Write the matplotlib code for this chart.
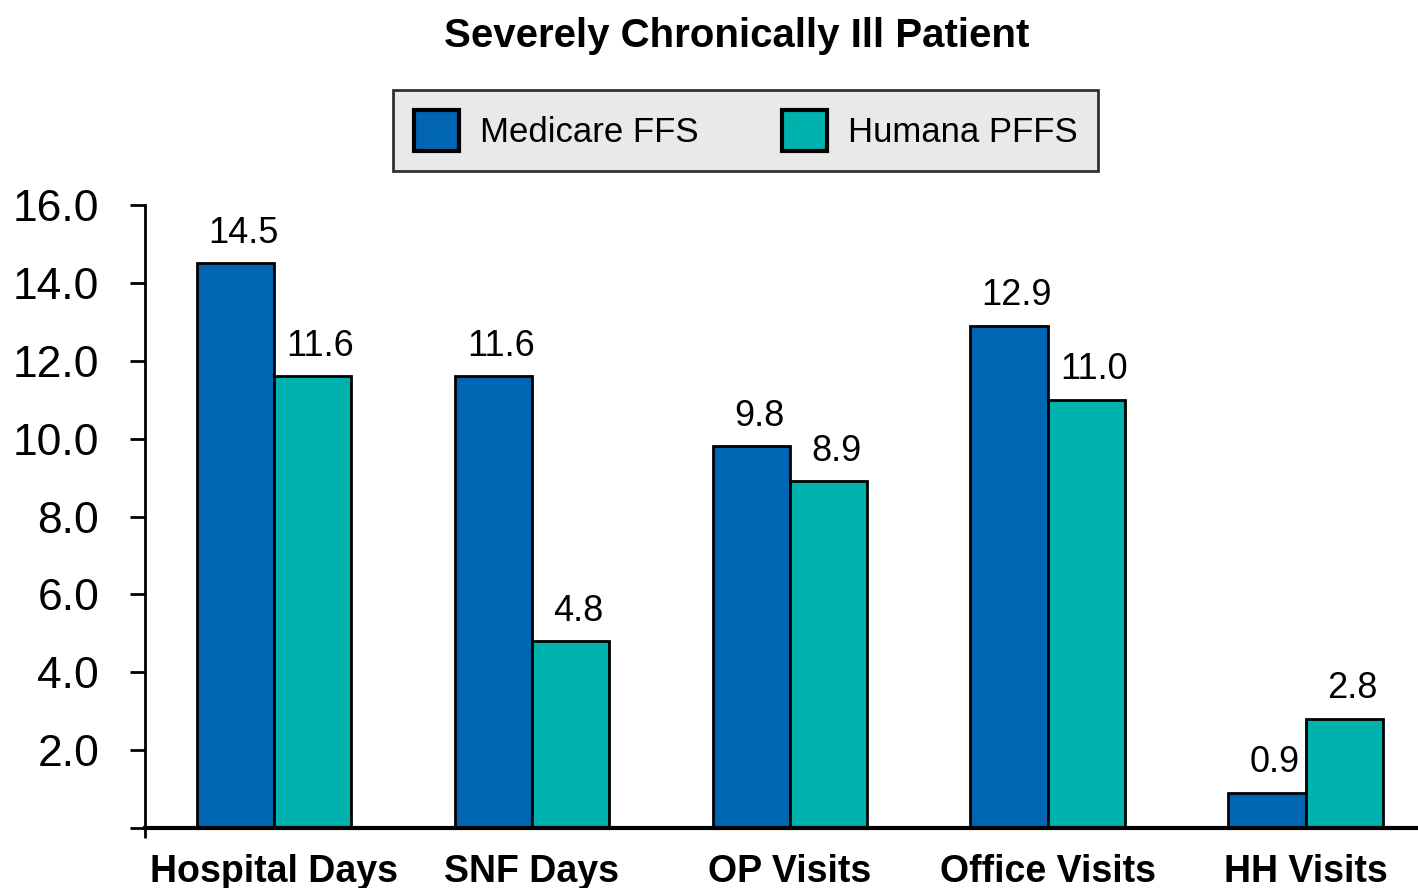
# Severely Chronically Ill Patient - bar chart
import matplotlib.pyplot as plt
import numpy as np
from matplotlib.patches import Patch

plt.rcParams['font.family'] = ['Liberation Sans', 'DejaVu Sans']

# data
categories = ['Hospital Days', 'SNF Days', 'OP Visits', 'Office Visits', 'HH Visits']
medicare_ffs = [14.5, 11.6, 9.8, 12.9, 0.9]
humana_pffs = [11.6, 4.8, 8.9, 11.0, 2.8]
series_names = ['Medicare FFS', 'Humana PFFS']

blue = '#0066b3'
teal = '#00b2ae'

fig = plt.figure(figsize=(14.18, 8.88), dpi=100)
ax = fig.add_axes([0.1023, 0.0676, 0.8977, 0.7015])

x = np.arange(len(categories))
w = 0.30
b1 = ax.bar(x - w / 2, medicare_ffs, w, color=blue, edgecolor='black', linewidth=2)
b2 = ax.bar(x + w / 2, humana_pffs, w, color=teal, edgecolor='black', linewidth=2)

# value labels
for bars, vals in [(b1, medicare_ffs), (b2, humana_pffs)]:
    for r, v in zip(bars, vals):
        ax.annotate(f'{v:.1f}', (r.get_x() + r.get_width() / 2 + 0.03, r.get_height()),
                    xytext=(0, 9), textcoords='offset points',
                    ha='center', va='bottom', fontsize=26)

ax.set_xlim(-0.5, 4.435)
ax.set_ylim(0, 16)

yt = np.arange(0, 17, 2)
ax.set_yticks(yt)
ax.set_yticklabels([''] + [f'{t:.1f}' for t in yt[1:]], fontsize=32)
ax.tick_params(axis='y', length=11, width=2, pad=22, direction='out')

ax.set_xticks(x)
ax.set_xticklabels(categories, fontsize=27, fontweight='bold')
ax.tick_params(axis='x', length=0, pad=19)
ax.set_xticks([-0.5], minor=True)
ax.tick_params(axis='x', which='minor', length=7, width=2, direction='out')

for s in ['top', 'right']:
    ax.spines[s].set_visible(False)
ax.spines['left'].set_linewidth(2)
ax.spines['bottom'].set_linewidth(3)

fig.text(0.5197, 0.960, 'Severely Chronically Ill Patient', ha='center', va='center',
         fontsize=29, fontweight='bold')

handles = [Patch(facecolor=blue, edgecolor='black', linewidth=3),
           Patch(facecolor=teal, edgecolor='black', linewidth=3)]
leg = fig.legend(handles, series_names, loc='center', bbox_to_anchor=(0.5257, 0.853),
                 ncol=2, fontsize=25, frameon=True, fancybox=False,
                 handlelength=1.3, handleheight=1.4, handletextpad=0.6,
                 columnspacing=2.4, borderpad=0.6, borderaxespad=0)
leg.get_frame().set_facecolor('#e4e4e4')
leg.get_frame().set_edgecolor('black')
leg.get_frame().set_linewidth(2)

fig.savefig('out.png', dpi=100)
